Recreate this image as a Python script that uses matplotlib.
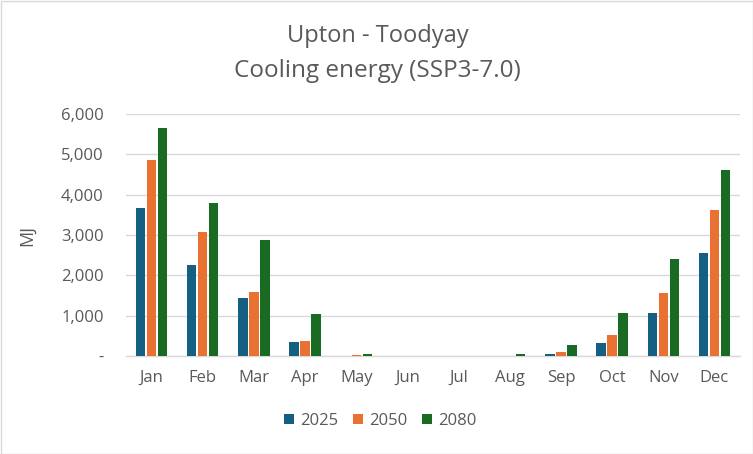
import matplotlib
matplotlib.use("Agg")
import matplotlib.pyplot as plt
import numpy as np
from matplotlib.ticker import FuncFormatter

months = ["Jan", "Feb", "Mar", "Apr", "May", "Jun", "Jul", "Aug", "Sep", "Oct", "Nov", "Dec"]
v2025 = [3670, 2260, 1440, 350, 0, 0, 0, 0, 50, 330, 1070, 2560]
v2050 = [4860, 3080, 1590, 370, 20, 0, 0, 0, 100, 530, 1570, 3620]
v2080 = [5660, 3800, 2880, 1040, 60, 0, 0, 50, 280, 1070, 2410, 4610]
series = [("2025", v2025, "#156082"), ("2050", v2050, "#E97132"), ("2080", v2080, "#196B24")]

plt.rcParams['font.family'] = ['Open Sans', 'DejaVu Sans']
txt = "#595959"

fig = plt.figure(figsize=(7.53, 4.54), dpi=100)
ax = fig.add_axes([126/753, 1-356/454, (740-126)/753, (356-114)/454])

x = np.arange(len(months))
w = 0.18
gap = 0.035
for i, (name, vals, col) in enumerate(series):
    ax.bar(x + (i-1)*(w+gap), vals, width=w, color=col, label=name, zorder=3)

ax.set_xlim(-0.5, 11.5)
ax.set_ylim(0, 6000)
ax.set_yticks(range(0, 6001, 1000))
ax.yaxis.set_major_formatter(FuncFormatter(lambda v, p: "-" if v == 0 else f"{int(v):,}"))
ax.set_xticks(x)
ax.set_xticklabels(months)
ax.grid(axis='y', color="#D9D9D9", linewidth=1, zorder=0)
for s in ["top", "right", "left"]:
    ax.spines[s].set_visible(False)
ax.spines["bottom"].set_color("#D9D9D9")
ax.spines["bottom"].set_linewidth(1)
ax.tick_params(axis='both', length=0, colors=txt, labelsize=12)
ax.tick_params(axis='y', pad=16)
ax.tick_params(axis='x', pad=10)
ax.set_ylabel("MJ", color=txt, fontsize=13)
ax.yaxis.set_label_coords(-90/614, 0.5)

fig.text(378/753, 1-36/454, "Upton - Toodyay", ha='center', va='center', fontsize=17, color=txt)
fig.text(377/753, 1-71/454, "Cooling energy (SSP3-7.0)", ha='center', va='center', fontsize=17.5, color=txt)

leg = fig.legend(loc='center', bbox_to_anchor=(380/753, 1-421/454), ncol=3, frameon=False,
                 fontsize=12, handlelength=0.6, handleheight=0.6, columnspacing=0.9, handletextpad=0.35)
for t in leg.get_texts():
    t.set_color(txt)

fig.patches.append(plt.Rectangle((0.5/753, 0.5/454), 1-1/753, 1-1/454, transform=fig.transFigure,
                                 fill=False, edgecolor="#D9D9D9", linewidth=1))
fig.savefig("out.png", dpi=100)
